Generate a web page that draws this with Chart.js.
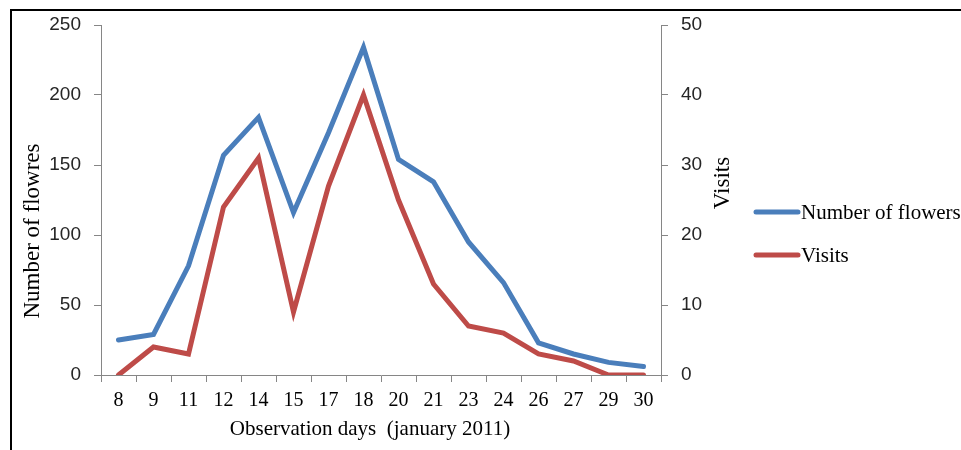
<!DOCTYPE html>
<html>
<head>
<meta charset="utf-8">
<script src="https://cdn.jsdelivr.net/npm/chart.js@4/dist/chart.umd.min.js"></script>
<style>
  html, body { margin: 0; padding: 0; background: #fff; }
  #wrap { width: 961px; height: 450px; position: relative; }
</style>
</head>
<body>
<div id="wrap"><canvas id="flowerChart" width="961" height="450"></canvas></div>
<script>
const days = ['8','9','11','12','14','15','17','18','20','21','23','24','26','27','29','30'];
const flowers = [25, 29, 78, 157, 184, 116, 173, 234, 154, 138, 95, 66, 23, 15, 9, 6];
const visits = [0, 4, 3, 24, 31, 9, 27, 40, 25, 13, 7, 6, 3, 2, 0, 0];
const leftTicks = [0, 50, 100, 150, 200, 250];
const rightTicks = [0, 10, 20, 30, 40, 50];

const BLUE = '#4a7ebb';
const RED = '#be4b48';
const AXIS = '#868686';
const SERIF = '"Liberation Serif", "Times New Roman", serif';
const SANS = '"Liberation Sans", Arial, sans-serif';

// titles, legend and the outer frame
const decor = {
    id: 'decor',
    afterDraw(chart){
        const c = chart.ctx;
        c.save();
        c.fillStyle = '#000';
        c.font = '21px ' + SERIF;
        c.textAlign = 'center';
        c.textBaseline = 'middle';
        c.fillText('Observation days  (january 2011)', 370, 429);

        c.font = '23px ' + SERIF;
        c.save();
        c.translate(33, 231);
        c.rotate(-Math.PI/2);
        c.fillText('Number of flowres', 0, 0);
        c.restore();

        c.save();
        c.translate(723, 183);
        c.rotate(-Math.PI/2);
        c.fillText('Visits', 0, 0);
        c.restore();

        // legend
        c.font = '21px ' + SERIF;
        const items = [[chart.data.datasets[0], 212], [chart.data.datasets[1], 255]];
        c.textAlign = 'left';
        items.forEach(([ds, y]) => {
            c.strokeStyle = ds.borderColor;
            c.lineWidth = 5;
            c.lineCap = 'round';
            c.beginPath();
            c.moveTo(756, y);
            c.lineTo(798, y);
            c.stroke();
            c.fillStyle = '#000';
            c.fillText(ds.label, 801, y + 1);
        });

        // frame
        c.strokeStyle = '#000';
        c.lineWidth = 2;
        c.beginPath();
        c.moveTo(11, 460);
        c.lineTo(11, 10);
        c.lineTo(970, 10);
        c.stroke();
        c.restore();
    }
};

new Chart(document.getElementById('flowerChart').getContext('2d'), {
    type: 'line',
    data: {
        labels: days,
        datasets: [
            { label: 'Number of flowers', data: flowers, yAxisID: 'y', borderColor: BLUE, backgroundColor: BLUE,
              borderWidth: 5, pointRadius: 0, tension: 0, borderCapStyle: 'round' },
            { label: 'Visits', data: visits, yAxisID: 'y1', borderColor: RED, backgroundColor: RED,
              borderWidth: 5, pointRadius: 0, tension: 0, borderCapStyle: 'round' }
        ]
    },
    options: {
        responsive: false,
        animation: false,
        layout: { padding: { left: 0, top: 25, right: 220, bottom: 0 } },
        plugins: { legend: { display: false }, tooltip: { enabled: false } },
        scales: {
            x: {
                offset: true,
                grid: { offset: true, drawOnChartArea: false, drawTicks: true, tickLength: 7, color: AXIS },
                border: { color: AXIS, width: 1 },
                ticks: { color: '#000', font: { family: SERIF, size: 20 }, padding: 7, maxRotation: 0, autoSkip: false },
                afterFit(s){ s.height = 75; }
            },
            y: {
                position: 'left',
                min: 0, max: 250,
                afterBuildTicks(s){ s.ticks = leftTicks.map(v => ({ value: v })); },
                grid: { drawOnChartArea: false, drawTicks: true, tickLength: 7, color: AXIS },
                border: { color: AXIS, width: 1 },
                ticks: { color: '#262626', font: { family: SANS, size: 19 }, padding: 13 },
                afterFit(s){ s.width = 101; }
            },
            y1: {
                position: 'right',
                min: 0, max: 50,
                afterBuildTicks(s){ s.ticks = rightTicks.map(v => ({ value: v })); },
                grid: { drawOnChartArea: false, drawTicks: true, tickLength: 7, color: AXIS },
                border: { color: AXIS, width: 1 },
                ticks: { color: '#262626', font: { family: SANS, size: 19 }, padding: 13 },
                afterFit(s){ s.width = 80; }
            }
        }
    },
    plugins: [decor]
});
</script>
</body>
</html>
